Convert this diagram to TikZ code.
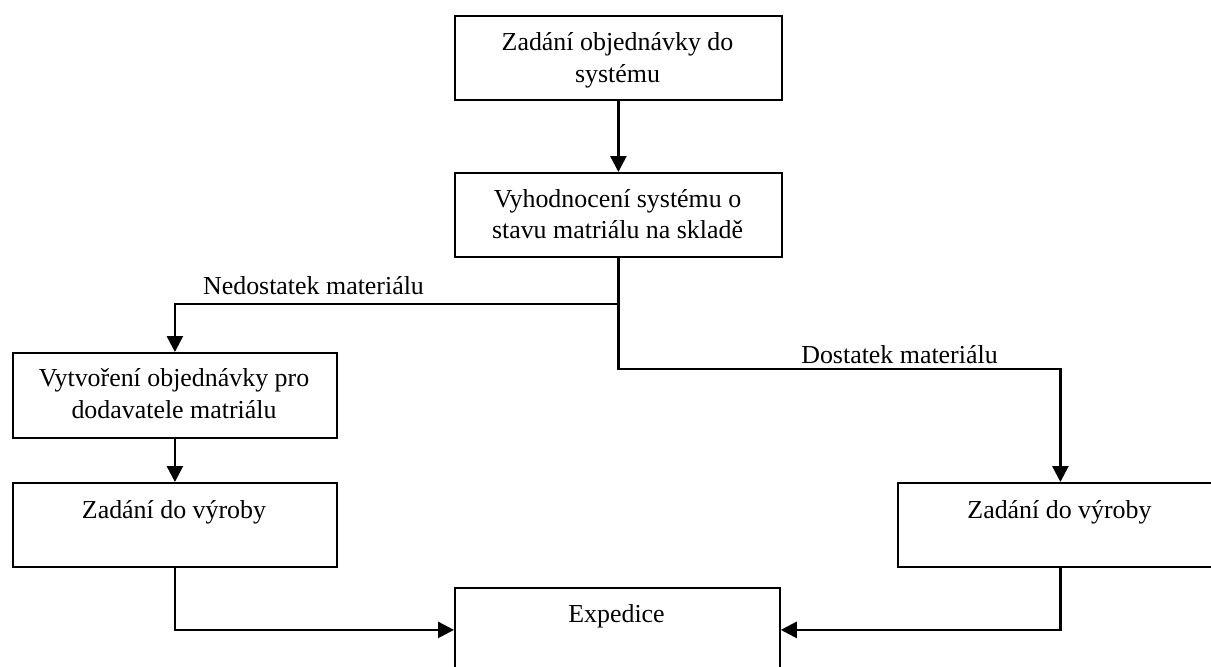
\documentclass[tikz,border=0pt]{standalone}
\usepackage{fontspec}
\setmainfont{Liberation Serif}
\usetikzlibrary{arrows.meta}
\begin{document}
\begin{tikzpicture}[x=1pt,y=-1pt,
  box/.style={draw, line width=1.8pt, minimum width=326pt, minimum height=84pt,
    inner sep=0pt, anchor=north west},
  lbl/.style={anchor=base, inner sep=0pt, font=\fontsize{25.9pt}{31.7pt}\selectfont},
  conn/.style={line width=2.6pt, -{Triangle[length=16pt,width=16pt]}}]
\useasboundingbox (0,0) rectangle (1211,667);

% process boxes
\node[box, minimum width=327pt] (b1) at (454,15) {};
\node[box, minimum width=327pt] (b2) at (454,172) {};
\node[box, minimum width=324pt, minimum height=85pt] (b3) at (12,352) {};
\node[box, minimum width=324pt] (b4) at (12,482) {};
\node[box, minimum width=325pt] (b5) at (897,482) {};
\node[box, minimum width=325pt] (exp) at (454,587) {};

% box texts
\node[lbl] (t1a) at (617.5,50) {Zadání objednávky do};
\node[lbl] (t1b) at (617.5,82) {systému};
\node[lbl] (t2a) at (617.5,207) {Vyhodnocení systému o};
\node[lbl] (t2b) at (617.5,238) {stavu matriálu na skladě};
\node[lbl] (t3a) at (174,386) {Vytvoření objednávky pro};
\node[lbl] (t3b) at (174,418) {dodavatele matriálu};
\node[lbl] (t4) at (174,518) {Zadání do výroby};
\node[lbl] (t5) at (1059.5,518) {Zadání do výroby};
\node[lbl] (t6) at (616.5,622) {Expedice};

% branch labels
\node[lbl] (nlab) at (313.5,294) {Nedostatek materiálu};
\node[lbl] (dlab) at (899.5,363) {Dostatek materiálu};

% branch levels
\coordinate (nd) at (617,304);
\coordinate (dd) at (617,369);

% connectors
\draw[conn] (b1.south) -- (b2.north);
\draw[conn] (b2.south) -- (b2.south |- nd) -| (b3.north);
\draw[conn] (b2.south) -- (b2.south |- dd) -| (b5.north);
\draw[conn] (b3.south) -- (b4.north);
\draw[conn] (b4.south) |- (exp.west);
\draw[conn] (b5.south) |- (exp.east);
\end{tikzpicture}
\end{document}
